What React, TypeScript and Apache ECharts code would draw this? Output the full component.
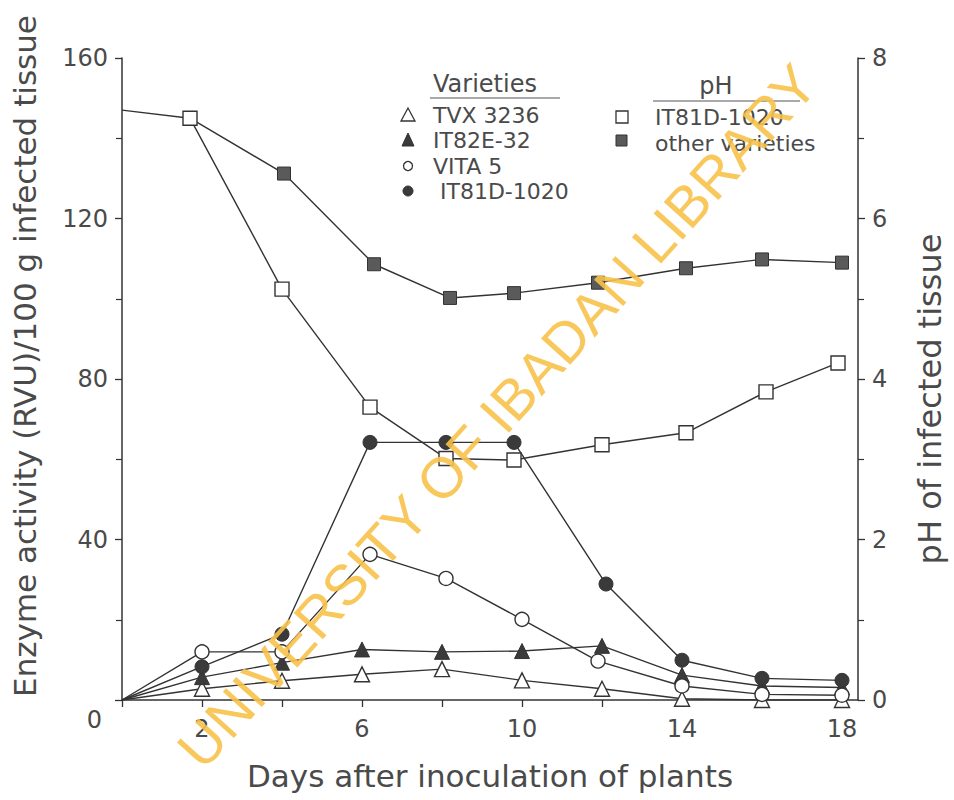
import React, { useEffect, useRef } from "react";
import * as echarts from "echarts";

// ---- data ----
const days = [0, 2, 4, 6, 8, 10, 12, 14, 16, 18];
const xTickValues = [0, 2, 4, 6, 8, 10, 12, 14, 16, 18];
const xLabelValues = [2, 6, 10, 14, 18];

// Enzyme activity (RVU)/100 g infected tissue
const tvx3236 = [0, 2.8, 4.8, 6.4, 7.7, 4.9, 2.8, 0.3, 0, 0];
const it82e32 = [0, 5.7, 9.3, 12.6, 12.0, 12.2, 13.5, 6.2, 3.5, 3.1];
const vita5Days = [0, 2, 4, 6.2, 8.1, 10, 11.9, 14, 16, 18];
const vita5 = [0, 12.0, 12.0, 36.3, 30.3, 20.1, 9.7, 3.5, 1.4, 1.2];
const it81dDays = [0, 2, 4, 6.2, 8.1, 9.8, 12.1, 14, 16, 18];
const it81d = [0, 8.3, 16.4, 64.2, 64.2, 64.2, 28.9, 9.9, 5.4, 4.9];

// pH of infected tissue
const phIt81dDays = [0, 1.7, 4, 6.2, 8.1, 9.8, 12, 14.1, 16.1, 17.9];
const phIt81d = [7.35, 7.25, 5.12, 3.65, 3.01, 2.99, 3.18, 3.33, 3.84, 4.2];
const phOtherDays = [1.7, 4.05, 6.3, 8.2, 9.8, 11.9, 14.1, 16, 18];
const phOther = [7.25, 6.56, 5.43, 5.01, 5.07, 5.2, 5.38, 5.49, 5.45];

const FONT = "DejaVu Sans";
const INK = "#333";
const TXT = "#4a4a4a";

function pts(xs: number[], ys: number[], hideFirst: boolean) {
  return xs.map((x, i) =>
    i === 0 && hideFirst ? { value: [x, ys[i]], symbol: "none" } : { value: [x, ys[i]] }
  );
}

export default function App() {
  const ref = useRef<HTMLDivElement>(null);

  useEffect(() => {
    if (!ref.current) return;
    const chart = echarts.init(ref.current, null, { renderer: "svg" });

    const lineStyle = { color: INK, width: 1.4 };
    const openItem = { color: "#fff", borderColor: INK, borderWidth: 1.4 };
    const fillItem = { color: "#3a3a3a", borderColor: INK, borderWidth: 1 };

    const legendText = (text: string, x: number, y: number, size = 22) => ({
      type: "text",
      x,
      y,
      style: {
        text,
        fill: TXT,
        font: `${size}px '${FONT}'`,
        align: "left",
        verticalAlign: "middle",
        lineHeight: 22,
      },
    });

    const option: any = {
      animation: false,
      backgroundColor: "#fff",
      grid: { left: 122, right: 96, top: 58, bottom: 100, containLabel: false },
      xAxis: {
        type: "value",
        min: 0,
        max: 18.4,
        interval: 2,
        name: "Days after inoculation of plants",
        nameLocation: "middle",
        nameGap: 60,
        nameTextStyle: { fontFamily: FONT, fontSize: 31, color: TXT },
        axisLine: { show: true, lineStyle: { color: INK, width: 1.5 } },
        axisTick: { show: true, length: 7, customValues: xTickValues, lineStyle: { color: INK, width: 1.3 } },
        axisLabel: {
          customValues: xLabelValues,
          fontFamily: FONT,
          fontSize: 24,
          color: TXT,
          margin: 17,
        },
        splitLine: { show: false },
      },
      yAxis: [
        {
          type: "value",
          min: 0,
          max: 160,
          interval: 40,
          name: "Enzyme activity (RVU)/100 g infected tissue",
          nameLocation: "middle",
          nameRotate: 90,
          nameGap: 82,
          nameTextStyle: { fontFamily: FONT, fontSize: 31, color: TXT, padding: [0, 0, 0, 46] },
          axisLine: { show: true, lineStyle: { color: INK, width: 1.5 } },
          axisTick: { show: true, length: 7, lineStyle: { color: INK, width: 1.3 } },
          minorTick: { show: true, splitNumber: 2, length: 6, lineStyle: { color: INK, width: 1.2 } },
          axisLabel: {
            fontFamily: FONT,
            fontSize: 24,
            color: TXT,
            margin: 14,
            formatter: (v: number) => (v === 0 ? "{z|0}" : String(v)),
            rich: { z: { fontFamily: FONT, fontSize: 24, color: TXT, padding: [40, 6, 0, 0] } },
          },
          splitLine: { show: false },
        },
        {
          type: "value",
          min: 0,
          max: 8,
          interval: 2,
          position: "right",
          name: "pH of infected tissue",
          nameLocation: "middle",
          nameRotate: 90,
          nameGap: 56,
          nameTextStyle: { fontFamily: FONT, fontSize: 32, color: TXT, padding: [0, 40, 0, 0] },
          axisLine: { show: true, lineStyle: { color: INK, width: 1.5 } },
          axisTick: { show: true, length: 7, lineStyle: { color: INK, width: 1.3 } },
          minorTick: { show: true, splitNumber: 2, length: 6, lineStyle: { color: INK, width: 1.2 } },
          axisLabel: { fontFamily: FONT, fontSize: 24, color: TXT, margin: 14 },
          splitLine: { show: false },
        },
      ],
      series: [
        {
          name: "TVX 3236",
          type: "line",
          yAxisIndex: 0,
          data: pts(days, tvx3236, true),
          symbol: "triangle",
          symbolSize: 15,
          lineStyle,
          itemStyle: openItem,
        },
        {
          name: "IT82E-32",
          type: "line",
          yAxisIndex: 0,
          data: pts(days, it82e32, true),
          symbol: "triangle",
          symbolSize: 15,
          lineStyle,
          itemStyle: fillItem,
        },
        {
          name: "VITA 5",
          type: "line",
          yAxisIndex: 0,
          data: pts(vita5Days, vita5, true),
          symbol: "circle",
          symbolSize: 14,
          lineStyle,
          itemStyle: openItem,
        },
        {
          name: "IT81D-1020",
          type: "line",
          yAxisIndex: 0,
          data: pts(it81dDays, it81d, true),
          symbol: "circle",
          symbolSize: 14,
          lineStyle,
          itemStyle: fillItem,
        },
        {
          name: "pH other varieties",
          type: "line",
          yAxisIndex: 1,
          data: pts(phOtherDays, phOther, true),
          symbol: "rect",
          symbolSize: 13,
          lineStyle,
          itemStyle: { color: "#5a5a5a", borderColor: INK, borderWidth: 1 },
        },
        {
          name: "pH IT81D-1020",
          type: "line",
          yAxisIndex: 1,
          data: pts(phIt81dDays, phIt81d, true),
          symbol: "rect",
          symbolSize: 14,
          lineStyle,
          itemStyle: openItem,
        },
      ],
      graphic: [
        // Varieties legend
        {
          type: "text",
          x: 485,
          y: 84,
          style: { text: "Varieties", fill: TXT, font: `24px '${FONT}'`, align: "center", verticalAlign: "middle" },
        },
        { type: "line", shape: { x1: 430, y1: 98, x2: 560, y2: 98 }, style: { stroke: "#555", lineWidth: 1.2 } },
        {
          type: "polygon",
          shape: { points: [[408, 108], [401, 121], [415, 121]] },
          style: { fill: "#fff", stroke: INK, lineWidth: 1.3 },
        },
        legendText("TVX 3236", 433, 115),
        {
          type: "polygon",
          shape: { points: [[408, 133], [402, 146], [414, 146]] },
          style: { fill: "#3a3a3a", stroke: INK, lineWidth: 1 },
        },
        legendText("IT82E-32", 433, 140),
        { type: "circle", shape: { cx: 408, cy: 166, r: 4.5 }, style: { fill: "#fff", stroke: INK, lineWidth: 1.3 } },
        legendText("VITA 5", 433, 166),
        { type: "circle", shape: { cx: 408, cy: 191, r: 5 }, style: { fill: "#3a3a3a", stroke: INK, lineWidth: 1 } },
        legendText("IT81D-1020", 440, 191),
        // pH legend
        {
          type: "text",
          x: 716,
          y: 86,
          style: { text: "pH", fill: TXT, font: `24px '${FONT}'`, align: "center", verticalAlign: "middle" },
        },
        { type: "line", shape: { x1: 653, y1: 101, x2: 800, y2: 101 }, style: { stroke: "#555", lineWidth: 1.2 } },
        { type: "rect", shape: { x: 616, y: 111, width: 12, height: 12 }, style: { fill: "#fff", stroke: INK, lineWidth: 1.3 } },
        legendText("IT81D-1020", 655, 117),
        { type: "rect", shape: { x: 616, y: 135, width: 11, height: 11 }, style: { fill: "#5a5a5a", stroke: INK, lineWidth: 1 } },
        legendText("other varieties", 655, 143),
        // watermark
        {
          type: "text",
          x: 497,
          y: 416,
          rotation: (48 * Math.PI) / 180,
          z: 100,
          style: {
            text: "UNIVERSITY OF IBADAN LIBRARY",
            fill: "#f7c24a",
            opacity: 0.9,
            font: `57px 'Liberation Sans'`,
            align: "center",
            verticalAlign: "middle",
          },
        },
      ],
    };

    chart.setOption(option);
    return () => chart.dispose();
  }, []);

  return (
    <div
      ref={ref}
      style={{ position: "fixed", left: 0, top: 0, width: 954, height: 800, background: "#fff" }}
    />
  );
}
